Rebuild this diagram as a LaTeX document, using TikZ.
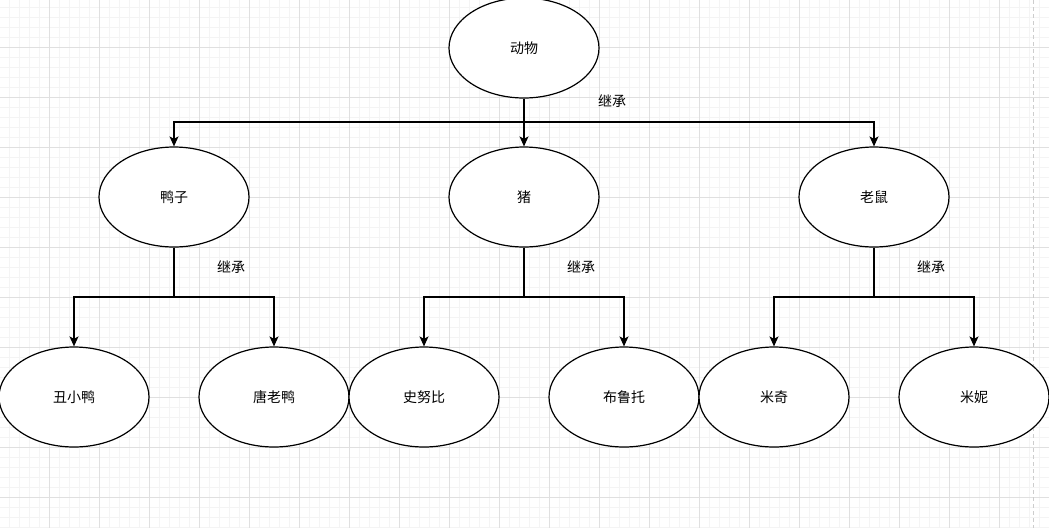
\documentclass[tikz,border=0pt]{standalone}
\usepackage{fontspec}
\newfontfamily\cjk{Noto Sans CJK SC}
\usetikzlibrary{arrows.meta,shapes.geometric}
\definecolor{minorgrid}{HTML}{F4F4F4}
\definecolor{majorgrid}{HTML}{E0E0E0}
\begin{document}
\begin{tikzpicture}[x=1pt,y=-1pt,
  animal/.style={draw=black,line width=1.2pt,ellipse,minimum width=150pt,minimum height=100pt,inner sep=0pt,fill=white,font=\cjk\fontsize{14}{16}\selectfont},
  link/.style={draw=black,line width=1.3pt},
  arr/.style={link,-{Stealth[length=10pt,width=9pt,inset=2.5pt]}},
  lbl/.style={font=\cjk\fontsize{14}{16}\selectfont,inner sep=0pt}]
\useasboundingbox (0,0) rectangle (1049,528);
\clip (0,0) rectangle (1049,528);
\fill[white] (0,0) rectangle (1049,528);
% grid
\foreach \x in {9,19,...,1049} \draw[minorgrid,line width=0.8pt] (\x,0) -- (\x,528);
\foreach \y in {7,17,...,528} \draw[minorgrid,line width=0.8pt] (0,\y) -- (1049,\y);
\foreach \x in {49,99,...,1049} \draw[majorgrid,line width=0.8pt] (\x,0) -- (\x,528);
\foreach \y in {47,97,...,528} \draw[majorgrid,line width=0.8pt] (0,\y) -- (1049,\y);
\draw[majorgrid!80!gray,line width=1pt,dash pattern=on 4pt off 3pt] (1033,0) -- (1033,528);
% nodes
\node[animal] (animal) at (524,48) {动物};
\node[animal] (duck) at (174,197) {鸭子};
\node[animal] (pig) at (524,197) {猪};
\node[animal] (mouse) at (874,197) {老鼠};
\node[animal] (d1) at (74,397) {丑小鸭};
\node[animal] (d2) at (274,397) {唐老鸭};
\node[animal] (p1) at (424,397) {史努比};
\node[animal] (p2) at (624,397) {布鲁托};
\node[animal] (m1) at (774,397) {米奇};
\node[animal] (m2) at (974,397) {米妮};
% junctions
\coordinate (j0) at (524,122);
\coordinate (jd) at (174,297);
\coordinate (jp) at (524,297);
\coordinate (jm) at (874,297);
% connectors
\draw[link] (animal.south) -- (j0);
\draw[arr] (j0) -| (duck.north);
\draw[arr] (j0) -- (pig.north);
\draw[arr] (j0) -| (mouse.north);
\draw[link] (duck.south) -- (jd);
\draw[arr] (jd) -| (d1.north);
\draw[arr] (jd) -| (d2.north);
\draw[link] (pig.south) -- (jp);
\draw[arr] (jp) -| (p1.north);
\draw[arr] (jp) -| (p2.north);
\draw[link] (mouse.south) -- (jm);
\draw[arr] (jm) -| (m1.north);
\draw[arr] (jm) -| (m2.north);
% labels
\node[lbl] (l0) at (612,101) {继承};
\node[lbl] (ld) at (231,267) {继承};
\node[lbl] (lp) at (581,267) {继承};
\node[lbl] (lm) at (931,267) {继承};
\end{tikzpicture}
\end{document}
